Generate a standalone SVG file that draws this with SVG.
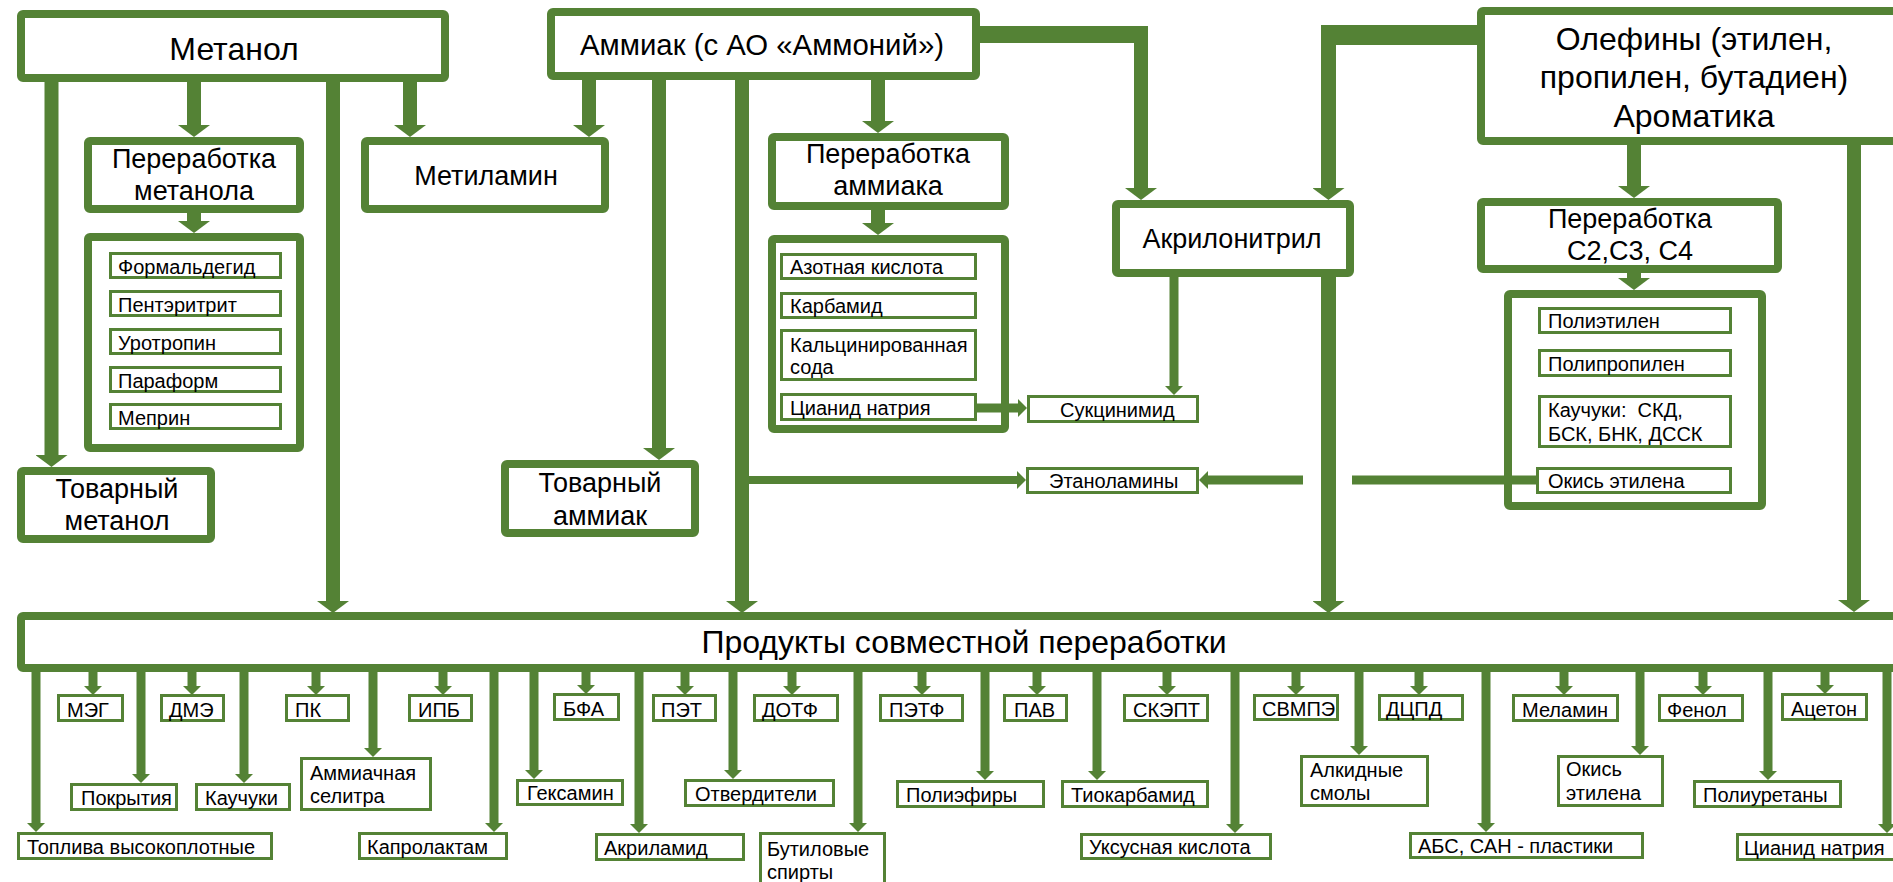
<svg xmlns="http://www.w3.org/2000/svg" width="1893" height="882" viewBox="0 0 1893 882">
<style>
.b{fill:#fff;stroke:#548235;stroke-width:8}
.s{fill:#fff;stroke:#548235;stroke-width:3}
.t{font-family:"Liberation Sans",Arial,sans-serif;fill:#000}
.big{font-size:32px;text-anchor:middle}
.med{font-size:27px;text-anchor:middle}
.sm{font-size:20px}
.c{fill:none;stroke:#548235;stroke-width:14}
.ct{fill:none;stroke:#548235;stroke-width:9}
</style>
<defs>
<marker id="ah" viewBox="0 0 12 32" refX="0" refY="16" markerWidth="12" markerHeight="32" orient="auto" markerUnits="userSpaceOnUse"><path d="M0,0 L12,16 L0,32 Z" fill="#548235"/></marker>
<marker id="as" viewBox="0 0 9 18" refX="0" refY="9" markerWidth="9" markerHeight="18" orient="auto" markerUnits="userSpaceOnUse"><path d="M0,0 L9,9 L0,18 Z" fill="#548235"/></marker>
</defs>
<rect width="1893" height="882" fill="#fff"/>

<g id="nodes">
<g id="metanol"><rect class="b" x="21" y="14" width="424" height="64" rx="2"/><text class="t big" x="234" y="60">Метанол</text></g>
<g id="pererab-metanola"><rect class="b" x="88" y="141" width="212" height="68" rx="2"/><text class="t med" x="194" y="168">Переработка</text><text class="t med" x="194" y="200">метанола</text></g>
<g id="metanol-list"><rect class="b" x="88" y="237" width="212" height="211" rx="2"/>
<g id="formaldegid"><rect class="s" x="110.5" y="253.5" width="170" height="24"/><text class="t sm" x="118" y="274">Формальдегид</text></g>
<g id="pentaeritrit"><rect class="s" x="110.5" y="291.5" width="170" height="24"/><text class="t sm" x="118" y="312">Пентэритрит</text></g>
<g id="urotropin"><rect class="s" x="110.5" y="329.5" width="170" height="24"/><text class="t sm" x="118" y="350">Уротропин</text></g>
<g id="paraform"><rect class="s" x="110.5" y="367.5" width="170" height="24"/><text class="t sm" x="118" y="388">Параформ</text></g>
<g id="meprin"><rect class="s" x="110.5" y="404.5" width="170" height="24"/><text class="t sm" x="118" y="425">Меприн</text></g>
</g>
<g id="tovar-metanol"><rect class="b" x="21" y="471" width="190" height="68" rx="2"/><text class="t med" x="117" y="498">Товарный</text><text class="t med" x="117" y="530">метанол</text></g>
<g id="metilamin"><rect class="b" x="365" y="141" width="240" height="68" rx="2"/><text class="t med" x="486" y="185">Метиламин</text></g>
<g id="ammiak"><rect class="b" x="551" y="12" width="425" height="64" rx="2"/><text class="t big" x="762" y="55" style="font-size:30px" textLength="364" lengthAdjust="spacingAndGlyphs">Аммиак (с АО «Аммоний»)</text></g>
<g id="tovar-ammiak"><rect class="b" x="505" y="464" width="190" height="69" rx="2"/><text class="t med" x="600" y="492">Товарный</text><text class="t med" x="600" y="525">аммиак</text></g>
<g id="pererab-ammiaka"><rect class="b" x="772" y="137" width="233" height="69" rx="2"/><text class="t med" x="888" y="163">Переработка</text><text class="t med" x="888" y="195">аммиака</text></g>
<g id="ammiak-list"><rect class="b" x="772" y="239" width="233" height="190" rx="2"/>
<g id="azot-kislota"><rect class="s" x="781.5" y="254.5" width="194" height="24"/><text class="t sm" x="790" y="274">Азотная кислота</text></g>
<g id="karbamid"><rect class="s" x="781.5" y="293.5" width="194" height="24"/><text class="t sm" x="790" y="313">Карбамид</text></g>
<g id="kalc-soda"><rect class="s" x="781.5" y="330.5" width="194" height="49"/><text class="t sm" x="790" y="352">Кальцинированная</text><text class="t sm" x="790" y="374">сода</text></g>
<g id="cianid-natriya"><rect class="s" x="781.5" y="394.5" width="194" height="25"/><text class="t sm" x="790" y="415">Цианид натрия</text></g>
</g>
<g id="akrilonitril"><rect class="b" x="1116" y="204" width="234" height="69" rx="2"/><text class="t med" x="1232" y="248">Акрилонитрил</text></g>
<g id="sukcinimid"><rect class="s" x="1028.5" y="396.5" width="169" height="25"/><text class="t sm" x="1060" y="417">Сукцинимид</text></g>
<g id="etanolaminy"><rect class="s" x="1027.5" y="468.5" width="170" height="24"/><text class="t sm" x="1049" y="488">Этаноламины</text></g>
<g id="olefiny"><rect class="b" x="1481" y="11" width="600" height="130" rx="2"/><text class="t big" x="1694" y="50">Олефины (этилен,</text><text class="t big" x="1694" y="88">пропилен, бутадиен)</text><text class="t big" x="1694" y="127">Ароматика</text></g>
<g id="pererab-c2c3c4"><rect class="b" x="1481" y="202" width="297" height="67" rx="2"/><text class="t med" x="1630" y="228">Переработка</text><text class="t med" x="1630" y="260">С2,С3, С4</text></g>
<g id="olefiny-list"><rect class="b" x="1508" y="294" width="254" height="212" rx="2"/>
<g id="polietilen"><rect class="s" x="1539.5" y="308.5" width="191" height="24"/><text class="t sm" x="1548" y="328">Полиэтилен</text></g>
<g id="polipropilen"><rect class="s" x="1539.5" y="350.5" width="191" height="25"/><text class="t sm" x="1548" y="371">Полипропилен</text></g>
<g id="kauchuki-skd"><rect class="s" x="1539.5" y="396.5" width="191" height="50"/><text class="t sm" x="1548" y="417">Каучуки:&#160; СКД,</text><text class="t sm" x="1548" y="441">БСК, БНК, ДССК</text></g>
<g id="okis-etilena-1"><rect class="s" x="1537.5" y="468.5" width="193" height="24"/><text class="t sm" x="1548" y="488">Окись этилена</text></g>
</g>
<g id="produkty"><rect class="b" x="21" y="616" width="1900" height="52" rx="2"/><text class="t big" x="964" y="653">Продукты совместной переработки</text></g>

<g id="meg"><rect class="s" x="58.5" y="695.5" width="64" height="25"/><text class="t sm" x="67" y="717">МЭГ</text></g>
<g id="dme"><rect class="s" x="161.5" y="695.5" width="62" height="25"/><text class="t sm" x="169" y="717">ДМЭ</text></g>
<g id="pk"><rect class="s" x="286.5" y="695.5" width="62" height="25"/><text class="t sm" x="295" y="717">ПК</text></g>
<g id="ipb"><rect class="s" x="409.5" y="695.5" width="62" height="25"/><text class="t sm" x="418" y="717">ИПБ</text></g>
<g id="bfa"><rect class="s" x="554.5" y="694.5" width="64" height="25"/><text class="t sm" x="563" y="716">БФА</text></g>
<g id="pet"><rect class="s" x="653.5" y="695.5" width="62" height="25"/><text class="t sm" x="661" y="717">ПЭТ</text></g>
<g id="dotf"><rect class="s" x="754.5" y="695.5" width="83" height="25"/><text class="t sm" x="762" y="717">ДОТФ</text></g>
<g id="petf"><rect class="s" x="880.5" y="695.5" width="82" height="25"/><text class="t sm" x="889" y="717">ПЭТФ</text></g>
<g id="pav"><rect class="s" x="1004.5" y="695.5" width="62" height="25"/><text class="t sm" x="1014" y="717">ПАВ</text></g>
<g id="skept"><rect class="s" x="1124.5" y="695.5" width="83" height="25"/><text class="t sm" x="1133" y="717">СКЭПТ</text></g>
<g id="svmpe"><rect class="s" x="1254.5" y="695.5" width="83" height="24"/><text class="t sm" x="1262" y="716">СВМПЭ</text></g>
<g id="dcpd"><rect class="s" x="1379.5" y="695.5" width="83" height="24"/><text class="t sm" x="1386" y="716">ДЦПД</text></g>
<g id="melamin"><rect class="s" x="1513.5" y="695.5" width="104" height="25"/><text class="t sm" x="1522" y="717">Меламин</text></g>
<g id="fenol"><rect class="s" x="1659.5" y="695.5" width="83" height="25"/><text class="t sm" x="1667" y="717">Фенол</text></g>
<g id="aceton"><rect class="s" x="1782.5" y="694.5" width="84" height="25"/><text class="t sm" x="1791" y="716">Ацетон</text></g>

<g id="topliva"><rect class="s" x="18.5" y="833.5" width="253" height="25"/><text class="t sm" x="27" y="854">Топлива высокоплотные</text></g>
<g id="pokrytiya"><rect class="s" x="71.5" y="784.5" width="105" height="25"/><text class="t sm" x="81" y="805">Покрытия</text></g>
<g id="kauchuki"><rect class="s" x="196.5" y="784.5" width="93" height="25"/><text class="t sm" x="205" y="805">Каучуки</text></g>
<g id="amm-selitra"><rect class="s" x="301.5" y="758.5" width="129" height="51"/><text class="t sm" x="310" y="780">Аммиачная</text><text class="t sm" x="310" y="803">селитра</text></g>
<g id="kaprolaktam"><rect class="s" x="359.5" y="833.5" width="147" height="25"/><text class="t sm" x="367" y="854">Капролактам</text></g>
<g id="geksamin"><rect class="s" x="517.5" y="780.5" width="105" height="24"/><text class="t sm" x="527" y="800">Гексамин</text></g>
<g id="akrilamid"><rect class="s" x="596.5" y="834.5" width="147" height="25"/><text class="t sm" x="604" y="855">Акриламид</text></g>
<g id="otverditeli"><rect class="s" x="685.5" y="780.5" width="148" height="25"/><text class="t sm" x="695" y="801">Отвердители</text></g>
<g id="butil-spirty"><rect class="s" x="760.5" y="833.5" width="124" height="60"/><text class="t sm" x="767" y="856">Бутиловые</text><text class="t sm" x="767" y="879">спирты</text></g>
<g id="poliefiry"><rect class="s" x="897.5" y="781.5" width="146" height="25"/><text class="t sm" x="906" y="802">Полиэфиры</text></g>
<g id="tiokarbamid"><rect class="s" x="1062.5" y="781.5" width="145" height="25"/><text class="t sm" x="1071" y="802">Тиокарбамид</text></g>
<g id="uksus-kislota"><rect class="s" x="1081.5" y="834.5" width="189" height="24"/><text class="t sm" x="1089" y="854">Уксусная кислота</text></g>
<g id="alkid-smoly"><rect class="s" x="1301.5" y="756.5" width="126" height="49"/><text class="t sm" x="1310" y="777">Алкидные</text><text class="t sm" x="1310" y="800">смолы</text></g>
<g id="abs-san"><rect class="s" x="1410.5" y="833.5" width="232" height="24"/><text class="t sm" x="1418" y="853">АБС, САН - пластики</text></g>
<g id="okis-etilena-2"><rect class="s" x="1558.5" y="756.5" width="104" height="49"/><text class="t sm" x="1566" y="776">Окись</text><text class="t sm" x="1566" y="800">этилена</text></g>
<g id="poliuretany"><rect class="s" x="1694.5" y="781.5" width="146" height="25"/><text class="t sm" x="1703" y="802">Полиуретаны</text></g>
<g id="cianid-natriya-2"><rect class="s" x="1737.5" y="834.5" width="200" height="25"/><text class="t sm" x="1744" y="855">Цианид натрия</text></g>
</g>

<g id="connectors">
<path class="c" d="M51.5,78 V455" marker-end="url(#ah)"/>
<path class="c" d="M194,78 V125" marker-end="url(#ah)"/>
<path class="c" d="M333,78 V601" marker-end="url(#ah)"/>
<path class="c" d="M410,78 V125" marker-end="url(#ah)"/>
<path class="c" d="M194,209 V221" marker-end="url(#ah)"/>
<path class="c" d="M589,76 V125" marker-end="url(#ah)"/>
<path class="c" d="M659,76 V448" marker-end="url(#ah)"/>
<path class="c" d="M742,76 V601" marker-end="url(#ah)"/>
<path class="c" d="M878,76 V121" marker-end="url(#ah)"/>
<path class="c" d="M878,206 V223" marker-end="url(#ah)"/>
<path class="c" d="M976,34.5 H1148" style="stroke-width:17"/>
<path class="c" d="M1141,26 V188" marker-end="url(#ah)"/>
<path class="c" d="M1481,35 H1321" style="stroke-width:20"/>
<path class="c" d="M1328.5,25 V188" style="stroke-width:15" marker-end="url(#ah)"/>
<path class="c" d="M1328.5,273 V601" style="stroke-width:15" marker-end="url(#ah)"/>
<path class="c" d="M1634,141 V186" marker-end="url(#ah)"/>
<path class="c" d="M1634,269 V278" marker-end="url(#ah)"/>
<path class="c" d="M1854,141 V600" marker-end="url(#ah)"/>
<path class="ct" d="M1174,273 V386" marker-end="url(#as)"/>
<path class="ct" d="M976,408 H1018" marker-end="url(#as)"/>
<path class="ct" d="M742,480 H1017" style="stroke-width:8" marker-end="url(#as)"/>
<path class="ct" d="M1536,480 H1352 M1303,480 H1208" marker-end="url(#as)"/>
<path class="ct" d="M93,668 V686" marker-end="url(#as)"/>
<path class="ct" d="M192,668 V686" marker-end="url(#as)"/>
<path class="ct" d="M316,668 V686" marker-end="url(#as)"/>
<path class="ct" d="M443,668 V686" marker-end="url(#as)"/>
<path class="ct" d="M586,668 V685" marker-end="url(#as)"/>
<path class="ct" d="M685,668 V686" marker-end="url(#as)"/>
<path class="ct" d="M792,668 V686" marker-end="url(#as)"/>
<path class="ct" d="M922,668 V686" marker-end="url(#as)"/>
<path class="ct" d="M1037,668 V686" marker-end="url(#as)"/>
<path class="ct" d="M1167,668 V686" marker-end="url(#as)"/>
<path class="ct" d="M1296,668 V686" marker-end="url(#as)"/>
<path class="ct" d="M1419,668 V686" marker-end="url(#as)"/>
<path class="ct" d="M1564,668 V686" marker-end="url(#as)"/>
<path class="ct" d="M1703,668 V686" marker-end="url(#as)"/>
<path class="ct" d="M1825,668 V685" marker-end="url(#as)"/>
<path class="ct" d="M36,668 V823" marker-end="url(#as)"/>
<path class="ct" d="M141,668 V774" marker-end="url(#as)"/>
<path class="ct" d="M244,668 V774" marker-end="url(#as)"/>
<path class="ct" d="M373,668 V748" marker-end="url(#as)"/>
<path class="ct" d="M494,668 V823" marker-end="url(#as)"/>
<path class="ct" d="M534,668 V770" marker-end="url(#as)"/>
<path class="ct" d="M639,668 V824" marker-end="url(#as)"/>
<path class="ct" d="M733,668 V770" marker-end="url(#as)"/>
<path class="ct" d="M858,668 V823" marker-end="url(#as)"/>
<path class="ct" d="M985,668 V771" marker-end="url(#as)"/>
<path class="ct" d="M1097,668 V771" marker-end="url(#as)"/>
<path class="ct" d="M1235,668 V824" marker-end="url(#as)"/>
<path class="ct" d="M1359,668 V746" marker-end="url(#as)"/>
<path class="ct" d="M1486,668 V823" marker-end="url(#as)"/>
<path class="ct" d="M1640,668 V746" marker-end="url(#as)"/>
<path class="ct" d="M1768,668 V771" marker-end="url(#as)"/>
<path class="ct" d="M1887,668 V824" marker-end="url(#as)"/>
</g>
</svg>
